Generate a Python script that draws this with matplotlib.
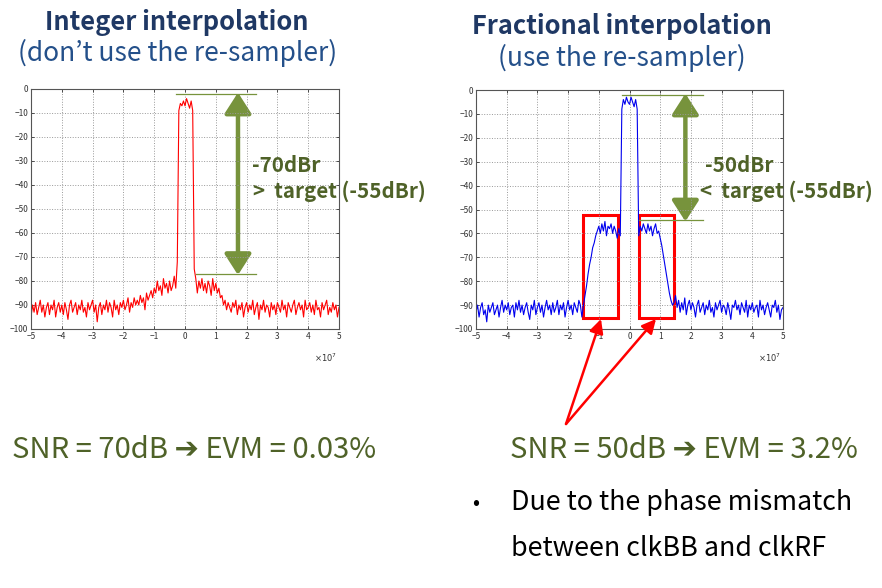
import numpy as np
import matplotlib
matplotlib.use('Agg')
import matplotlib.pyplot as plt
from matplotlib.patches import Rectangle, FancyArrowPatch

plt.rcParams['font.family'] = ['Noto Sans CJK KR', 'DejaVu Sans']

W, H = 882, 588

# frequency axis (x 1e7), one sample every 0.05
freq = np.linspace(-5, 5, 201)

# spectrum (dB), integer interpolation
psd_int = [
    -95, -90, -93, -89, -94, -91, -88, -93, -90, -95,
    -91, -89, -94, -90, -92, -88, -95, -91, -89, -93,
    -90, -94, -89, -92, -96, -90, -88, -93, -91, -89,
    -94, -90, -92, -88, -93, -91, -95, -89, -92, -90,
    -88, -93, -90, -97, -91, -89, -94, -90, -92, -88,
    -93, -89, -91, -95, -88, -92, -90, -94, -89, -91,
    -88, -92, -90, -87, -93, -89, -91, -87, -90, -88,
    -90, -86, -89, -87, -92, -85, -88, -86, -84, -87,
    -83, -85, -80, -84, -82, -86, -79, -83, -81, -85,
    -80, -84, -82, -78, -83, -72, -9, -6, -7, -5,
    -7, -4, -6, -8, -5, -9, -75, -79, -85, -80,
    -83, -79, -84, -81, -85, -80, -82, -86, -79, -84,
    -81, -85, -83, -87, -86, -90, -88, -92, -89, -91,
    -93, -89, -91, -88, -94, -90, -92, -89, -95, -91,
    -89, -93, -90, -92, -88, -94, -91, -89, -96, -90,
    -92, -88, -93, -90, -91, -95, -89, -92, -90, -94,
    -89, -91, -93, -88, -92, -90, -95, -89, -91, -93,
    -90, -88, -94, -91, -89, -92, -90, -95, -88, -92,
    -91, -89, -93, -90, -94, -88, -92, -91, -95, -89,
    -92, -90, -88, -94, -91, -93, -89, -92, -90, -95,
    -91,
]

# spectrum (dB), fractional interpolation
psd_frac = [
    -93, -90, -95, -91, -89, -94, -92, -97, -90, -93,
    -91, -89, -94, -92, -90, -95, -91, -88, -93, -90,
    -92, -89, -94, -91, -90, -95, -89, -92, -88, -93,
    -90, -94, -91, -89, -93, -96, -90, -92, -88, -94,
    -91, -89, -93, -90, -95, -91, -88, -92, -90, -94,
    -89, -93, -91, -88, -94, -90, -92, -89, -95, -91,
    -88, -92, -90, -94, -89, -91, -93, -88, -90, -95,
    -90, -86, -82, -77, -73, -70, -66, -64, -61, -59,
    -57, -60, -56, -59, -55, -61, -57, -58, -56, -60,
    -57, -59, -62, -58, -61, -8, -4, -6, -3, -5,
    -6, -3, -5, -7, -4, -8, -61, -57, -59, -56,
    -58, -60, -56, -59, -57, -61, -58, -56, -60, -59,
    -62, -65, -69, -73, -77, -81, -85, -88, -90, -89,
    -86, -91, -88, -93, -89, -92, -87, -94, -90, -88,
    -92, -89, -91, -95, -90, -88, -93, -91, -89, -94,
    -90, -92, -88, -93, -91, -95, -89, -92, -90, -88,
    -93, -90, -91, -94, -89, -92, -96, -90, -91, -88,
    -92, -90, -94, -89, -91, -93, -88, -95, -90, -92,
    -89, -93, -91, -90, -95, -88, -92, -90, -94, -91,
    -89, -92, -95, -90, -91, -88, -93, -90, -96, -92,
    -91,
]

x_ticks = [-5, -4, -3, -2, -1, 0, 1, 2, 3, 4, 5]
y_ticks = [0, -10, -20, -30, -40, -50, -60, -70, -80, -90, -100]

# annotation levels (dB) and red boxes (x from, x to)
int_top, int_bottom = -2, -77
frac_top, frac_bottom = -2, -54.5
boxes = [(-1.53, -0.39), (0.31, 1.45)]
box_y = (-95.5, -52.3)

TITLE_C = '#1F3864'
SUB_C = '#24508A'
OLIVE_TXT = '#4F6228'
OLIVE = '#77933C'


def fx(x):
    return x / W


def fy(y):
    return 1 - y / H


def style_axes(ax):
    ax.set_xlim(-5, 5)
    ax.set_ylim(-100, 0)
    ax.set_xticks(x_ticks)
    ax.set_yticks(y_ticks)
    ax.tick_params(labelsize=6, colors='#333333', direction='in',
                   top=True, right=True, length=2.5, width=0.6, pad=2)
    ax.grid(True, linestyle=':', color='#999999', linewidth=0.7)
    for s in ax.spines.values():
        s.set_color('#555555')
        s.set_linewidth(0.8)
    ax.text(0.995, -0.095, r'$\times10^7$', transform=ax.transAxes,
            ha='right', va='top', fontsize=6, color='#333333',
            family='DejaVu Sans')


def level_marker(ax, x0_top, x0_bot, x_end, x_arrow, top, bottom):
    ax.plot([x0_top, x_end], [top, top], color=OLIVE, lw=0.9, clip_on=False)
    ax.plot([x0_bot, x_end], [bottom, bottom], color=OLIVE, lw=0.9, clip_on=False)
    arr = FancyArrowPatch((x_arrow, top + 0.5), (x_arrow, bottom - 0.5),
                          arrowstyle='<|-|>,head_length=0.7,head_width=0.45',
                          mutation_scale=18, color=OLIVE, lw=3.2,
                          shrinkA=0, shrinkB=0)
    ax.add_patch(arr)


fig = plt.figure(figsize=(W / 100, H / 100), dpi=100)

ax1 = fig.add_axes([fx(31), fy(329), 308 / W, 240 / H])
ax1.plot(freq, psd_int, color='red', lw=0.8)
style_axes(ax1)
level_marker(ax1, -0.28, 0.37, 2.3, 1.72, int_top, int_bottom)

ax2 = fig.add_axes([fx(476), fy(329), 307 / W, 239 / H])
ax2.plot(freq, psd_frac, color='#0000EE', lw=0.8)
style_axes(ax2)
level_marker(ax2, -0.26, 0.31, 2.4, 1.82, frac_top, frac_bottom)
for x0, x1 in boxes:
    ax2.add_patch(Rectangle((x0, box_y[0]), x1 - x0, box_y[1] - box_y[0],
                            fill=False, edgecolor='red', lw=2.2, clip_on=False))

# titles
fig.text(fx(177), fy(22), 'Integer interpolation', ha='center', va='center',
         fontsize=18.3, fontweight='bold', color=TITLE_C)
fig.text(fx(178), fy(53), "(don\u2019t use the re-sampler)", ha='center',
         va='center', fontsize=19, color=SUB_C)
fig.text(fx(622), fy(26), 'Fractional interpolation', ha='center', va='center',
         fontsize=18.3, fontweight='bold', color=TITLE_C)
fig.text(fx(622), fy(58), '(use the re-sampler)', ha='center', va='center',
         fontsize=19, color=SUB_C)

# dBr labels
fig.text(fx(252), fy(166), '-70dBr', ha='left', va='center', fontsize=14.8,
         fontweight='bold', color=OLIVE_TXT)
fig.text(fx(253), fy(191), '>  target (-55dBr)', ha='left', va='center',
         fontsize=14.8, fontweight='bold', color=OLIVE_TXT)
fig.text(fx(705), fy(166), '-50dBr', ha='left', va='center', fontsize=14.8,
         fontweight='bold', color=OLIVE_TXT)
fig.text(fx(700), fy(191), '<  target (-55dBr)', ha='left', va='center',
         fontsize=14.8, fontweight='bold', color=OLIVE_TXT)

# red arrows to the boxes
for tip in [(601, 319), (656, 319)]:
    fig.add_artist(FancyArrowPatch((fx(566), fy(424)), (fx(tip[0]), fy(tip[1])),
                                   transform=fig.transFigure,
                                   arrowstyle='-|>,head_length=0.6,head_width=0.3',
                                   mutation_scale=14, color='red', lw=1.8,
                                   shrinkA=0, shrinkB=0))

# bottom text
fig.text(fx(12), fy(450), 'SNR = 70dB \u2794 EVM = 0.03%', ha='left', va='center',
         fontsize=21, color=OLIVE_TXT)
fig.text(fx(510), fy(450), 'SNR = 50dB \u2794 EVM = 3.2%', ha='left', va='center',
         fontsize=21, color=OLIVE_TXT)
fig.text(fx(476), fy(503), '\u2022', ha='center', va='center', fontsize=15,
         color='black')
fig.text(fx(511), fy(503), 'Due to the phase mismatch', ha='left', va='center',
         fontsize=19.3, color='black')
fig.text(fx(511), fy(548), 'between clkBB and clkRF', ha='left', va='center',
         fontsize=19.3, color='black')

fig.savefig('out.png', dpi=100)
